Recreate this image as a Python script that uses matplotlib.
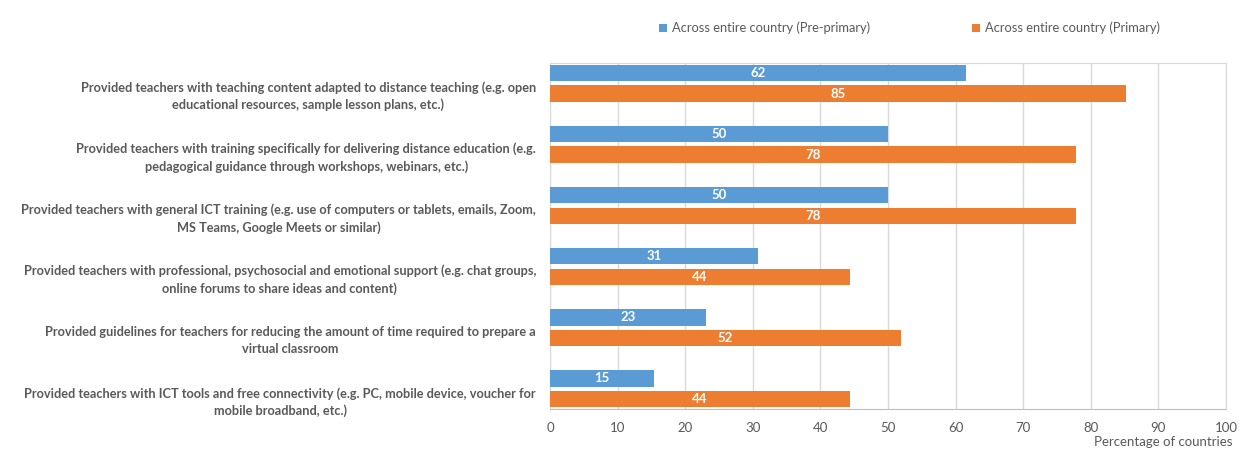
import numpy as np
import matplotlib.pyplot as plt

plt.rcParams['font.family'] = ['Lato', 'DejaVu Sans']

categories = [
    'Provided teachers with teaching content adapted to distance teaching (e.g. open\neducational resources, sample lesson plans, etc.)',
    'Provided teachers with training specifically for delivering distance education (e.g.\npedagogical guidance through workshops, webinars, etc.)',
    'Provided teachers with general ICT training (e.g. use of computers or tablets, emails, Zoom,\nMS Teams, Google Meets or similar)',
    'Provided teachers with professional, psychosocial and emotional support (e.g. chat groups,\nonline forums to share ideas and content)',
    'Provided guidelines for teachers for reducing the amount of time required to prepare a\nvirtual classroom',
    'Provided teachers with ICT tools and free connectivity (e.g. PC, mobile device, voucher for\nmobile broadband, etc.)',
]
pre_primary = [61.5, 50.0, 50.0, 30.8, 23.1, 15.4]
primary = [85.2, 77.8, 77.8, 44.4, 51.9, 44.4]
series_names = ['Across entire country (Pre-primary)', 'Across entire country (Primary)']

blue = '#5B9BD5'
orange = '#ED7D31'
grey_text = '#595959'

fig = plt.figure(figsize=(12.42, 4.5), dpi=100)
ax = fig.add_axes([550 / 1242, 1 - 409 / 450, 676 / 1242, 346 / 450])

y = np.arange(len(categories))
h = 0.27
off = 0.17
b1 = ax.barh(y - off, pre_primary, height=h, color=blue, label=series_names[0], zorder=3)
b2 = ax.barh(y + off, primary, height=h, color=orange, label=series_names[1], zorder=3)
for bars in (b1, b2):
    ax.bar_label(bars, fmt='%.0f', label_type='center', color='white',
                 fontsize=9.5, fontweight='bold')

ax.set_xlim(0, 100)
ax.set_ylim(len(categories) - 0.67, -0.33)
ax.set_xticks(range(0, 101, 10))
ax.set_yticks(y + 0.16)
ax.set_yticklabels(categories, fontsize=9.2, fontweight='bold', color=grey_text,
                   ha='right', multialignment='center', linespacing=1.45)
ax.tick_params(axis='y', length=0, pad=10)
ax.tick_params(axis='x', length=0, pad=9, labelsize=9.5, labelcolor=grey_text)
ax.grid(axis='x', color='#D9D9D9', linewidth=1, zorder=0)
for s in ax.spines.values():
    s.set_color('#D9D9D9')
ax.spines['bottom'].set_color('#BFBFBF')

ax.legend(ncol=2, loc='center', bbox_to_anchor=(0.532, 1 + 35 / 346), frameon=False,
          fontsize=9.3, labelcolor=grey_text, handlelength=0.6, handleheight=0.6,
          handletextpad=0.4, columnspacing=7.9)

fig.text(1233 / 1242, 1 - 436 / 450, 'Percentage of countries', ha='right', va='top',
         fontsize=9.5, color=grey_text)

fig.savefig('out.png', dpi=100)
